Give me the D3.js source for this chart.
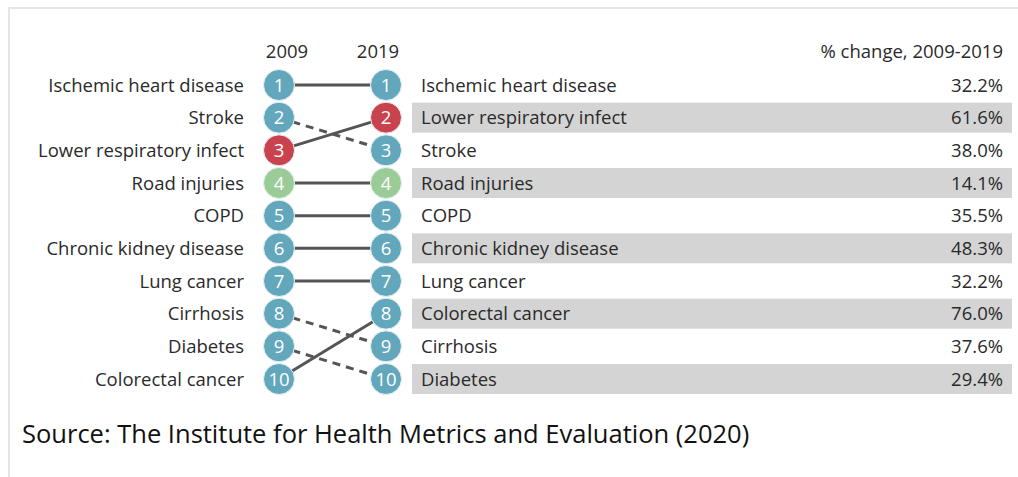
<!DOCTYPE html>
<html>
<head>
<meta charset="utf-8">
<script src="https://cdn.jsdelivr.net/npm/d3@7"></script>
<style>
    html, body { margin: 0; padding: 0; background: #fff; }
    body { width: 1018px; height: 477px; overflow: hidden; }
    #frame {
        position: absolute; left: 8px; top: 7px; width: 1030px; height: 500px;
        border-top: 2px solid #e6e6e6; border-left: 2px solid #e6e6e6;
    }
    svg { position: absolute; left: 0; top: 0; font-family: "Open Sans", sans-serif; }
</style>
</head>
<body>
<div id="frame"></div>
<div id="chart"></div>
<script>
const years = ['2009', '2019'];
const causes = ['Ischemic heart disease', 'Stroke', 'Lower respiratory infect', 'Road injuries', 'COPD',
    'Chronic kidney disease', 'Lung cancer', 'Cirrhosis', 'Diabetes', 'Colorectal cancer'];
const rank2009 = [1, 2, 3, 4, 5, 6, 7, 8, 9, 10];
const rank2019 = [1, 3, 2, 4, 5, 6, 7, 9, 10, 8];
const pctChange = [32.2, 38.0, 61.6, 14.1, 35.5, 48.3, 32.2, 37.6, 29.4, 76.0];
const causeGroup = ['other', 'other', 'respiratory', 'injury', 'other', 'other', 'other', 'other', 'other', 'other'];

const width = 1018;
const height = 477;

const rows = causes.map((c, i) => ({
    cause: c,
    r2009: rank2009[i],
    r2019: rank2019[i],
    pct: pctChange[i],
    group: causeGroup[i]
}));

const svg = d3.select('#chart')
    .append('svg')
    .attr('width', width)
    .attr('height', height);

const x = d3.scalePoint()
    .domain(years)
    .range([279, 386]);

const y = d3.scaleLinear()
    .domain([1, 10])
    .range([85, 379]);

const color = d3.scaleOrdinal()
    .domain(['other', 'respiratory', 'injury'])
    .range(['#62a7bc', '#c9434f', '#9bcc98']);

const bandLeft = 412;
const bandRight = 1012;
const pctRight = 1003;
const fs = 18.5;

// Shaded bands behind even rows of the 2019 table
svg.selectAll('rect.band')
    .data(rows.filter(d => d.r2019 % 2 === 0))
    .join('rect')
    .attr('class', 'band')
    .attr('x', bandLeft)
    .attr('y', d => y(d.r2019) - 15)
    .attr('width', bandRight - bandLeft)
    .attr('height', 30)
    .attr('fill', '#d4d4d4');

// Headers
svg.selectAll('text.year')
    .data(years)
    .join('text')
    .attr('class', 'year')
    .attr('x', (d, i) => x(d) + (i === 0 ? 8 : -8))
    .attr('y', 58)
    .attr('text-anchor', 'middle')
    .attr('font-size', fs)
    .attr('fill', '#2a2a2a')
    .text(d => d);

svg.append('text')
    .attr('x', pctRight)
    .attr('y', 58)
    .attr('text-anchor', 'end')
    .attr('font-size', fs)
    .attr('fill', '#2a2a2a')
    .text('% change, 2009-2019');

// Slope lines
svg.selectAll('line.slope')
    .data(rows)
    .join('line')
    .attr('class', 'slope')
    .attr('x1', x('2009'))
    .attr('y1', d => y(d.r2009))
    .attr('x2', x('2019'))
    .attr('y2', d => y(d.r2019))
    .attr('stroke', '#555')
    .attr('stroke-width', 3)
    .attr('stroke-dasharray', d => d.r2019 > d.r2009 ? '8,6' : null);

// Rank circles for both years
years.forEach(yr => {
    const key = 'r' + yr;
    const g = svg.selectAll('g.rank' + yr)
        .data(rows)
        .join('g')
        .attr('class', 'rank' + yr)
        .attr('transform', d => `translate(${x(yr)},${y(d[key])})`);

    g.append('circle')
        .attr('r', 15.5)
        .attr('fill', d => color(d.group))
        .attr('stroke', '#e8f1f3')
        .attr('stroke-width', 1);

    g.append('text')
        .attr('text-anchor', 'middle')
        .attr('dy', '0.36em')
        .attr('font-size', fs)
        .attr('fill', '#fff')
        .text(d => d[key]);
});

// Cause names, 2009 order on the left
svg.selectAll('text.left')
    .data(rows)
    .join('text')
    .attr('class', 'left')
    .attr('x', 244)
    .attr('y', d => y(d.r2009))
    .attr('dy', '0.36em')
    .attr('text-anchor', 'end')
    .attr('font-size', fs)
    .attr('fill', '#2a2a2a')
    .text(d => d.cause);

// Cause names and % change, 2019 order on the right
svg.selectAll('text.right')
    .data(rows)
    .join('text')
    .attr('class', 'right')
    .attr('x', 421)
    .attr('y', d => y(d.r2019))
    .attr('dy', '0.36em')
    .attr('font-size', fs)
    .attr('fill', '#2a2a2a')
    .text(d => d.cause);

svg.selectAll('text.pct')
    .data(rows)
    .join('text')
    .attr('class', 'pct')
    .attr('x', pctRight)
    .attr('y', d => y(d.r2019))
    .attr('dy', '0.36em')
    .attr('text-anchor', 'end')
    .attr('font-size', fs)
    .attr('fill', '#2a2a2a')
    .text(d => d.pct.toFixed(1) + '%');

svg.append('text')
    .attr('x', 22)
    .attr('y', 443)
    .attr('font-size', 25.5)
    .attr('fill', '#111')
    .text('Source: The Institute for Health Metrics and Evaluation (2020)');
</script>
</body>
</html>
